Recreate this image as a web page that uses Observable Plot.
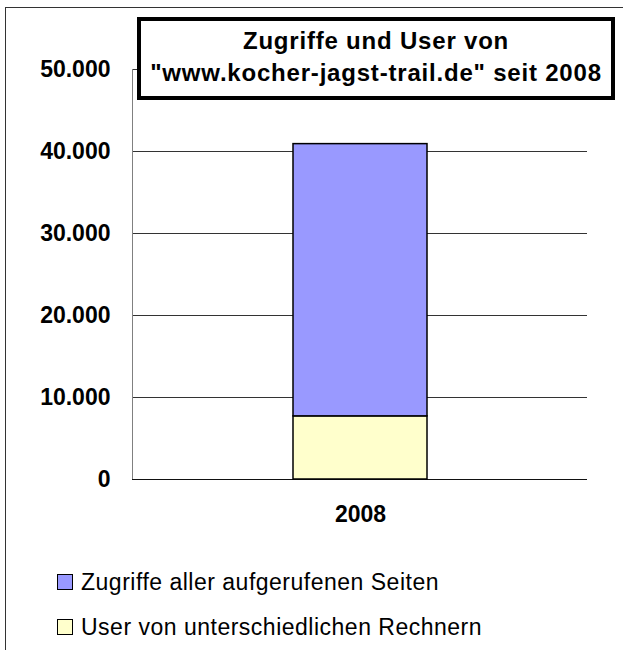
<!DOCTYPE html>
<html><head><meta charset="utf-8">
<script src="https://cdn.jsdelivr.net/npm/d3@7"></script>
<script src="https://cdn.jsdelivr.net/npm/@observablehq/plot@0.6"></script>
<style>
body{margin:0;background:#fff;}
#wrap{position:relative;width:623px;height:650px;overflow:hidden;background:#fff;font-family:"Liberation Sans",Arial,sans-serif;color:#000;}
#wrap svg{position:absolute;left:0;top:0;}
#border{position:absolute;left:5px;top:7px;width:800px;height:800px;border-left:1px solid #333;border-top:1px solid #333;}
#title{position:absolute;left:137px;top:17px;width:478px;height:83px;box-sizing:border-box;border:4px solid #000;background:#fff;text-align:center;font-weight:bold;font-size:24px;letter-spacing:0.8px;line-height:32px;padding-top:4px;}
.leg{position:absolute;left:57px;height:32px;display:flex;align-items:center;font-size:23px;letter-spacing:0.5px;white-space:nowrap;}
.sw{width:14px;height:14px;border:1px solid #000;margin-right:8px;flex:none;}
</style></head>
<body>
<div id="wrap"><div id="border"></div></div>
<script>
const years = ["2008"];
const seriesNames = ["Zugriffe aller aufgerufenen Seiten", "User von unterschiedlichen Rechnern"];
const zugriffe = [33200];
const users = [7700];
const colors = ["#9999FF", "#FFFFCC"];
const yTicks = [0, 10000, 20000, 30000, 40000, 50000];
const titleLines = ["Zugriffe und User von", "\"www.kocher-jagst-trail.de\" seit 2008"];

const data = [];
years.forEach((y, i) => {
  data.push({year: y, series: seriesNames[1], value: users[i]});
  data.push({year: y, series: seriesNames[0], value: zugriffe[i]});
});
const fmt = d3.formatLocale({decimal: ",", thousands: ".", grouping: [3], currency: ["", "€"]}).format(",d");

const chart = Plot.plot({
  width: 623, height: 650,
  marginLeft: 132, marginRight: 36, marginTop: 69, marginBottom: 171,
  style: {fontFamily: "'Liberation Sans', Arial, sans-serif", background: "transparent", color: "#000"},
  x: {domain: years, padding: 0.545, label: null},
  y: {domain: [0, 50000], label: null},
  color: {domain: seriesNames, range: colors},
  marks: [
    Plot.gridY(yTicks, {stroke: "#333", strokeOpacity: 1, strokeWidth: 1}),
    Plot.axisY(yTicks, {tickFormat: fmt, tickSize: 0, tickPadding: 22, fontSize: 23, fontWeight: "bold", fill: "#000", label: null}),
    Plot.axisX({tickSize: 0, tickPadding: 26, fontSize: 23, fontWeight: "bold", fill: "#000", label: null}),
    Plot.frame({anchor: "left", stroke: "#808080"}),
    Plot.ruleY([0], {stroke: "#111", strokeWidth: 1.2}),
    Plot.barY(data, {x: "year", y: "value", fill: "series", stroke: "#000", strokeWidth: 1.5})
  ]
});
const wrap = document.getElementById("wrap");
wrap.appendChild(chart);

const t = document.createElement("div");
t.id = "title";
titleLines.forEach(s => {
  const d = document.createElement("div");
  d.textContent = s;
  t.appendChild(d);
});
wrap.appendChild(t);

const legTops = [566, 611];
seriesNames.forEach((s, i) => {
  const row = document.createElement("div");
  row.className = "leg";
  row.style.top = legTops[i] + "px";
  const sw = document.createElement("div");
  sw.className = "sw";
  sw.style.background = colors[i];
  row.appendChild(sw);
  row.appendChild(document.createTextNode(s));
  wrap.appendChild(row);
});
</script>
</body></html>
